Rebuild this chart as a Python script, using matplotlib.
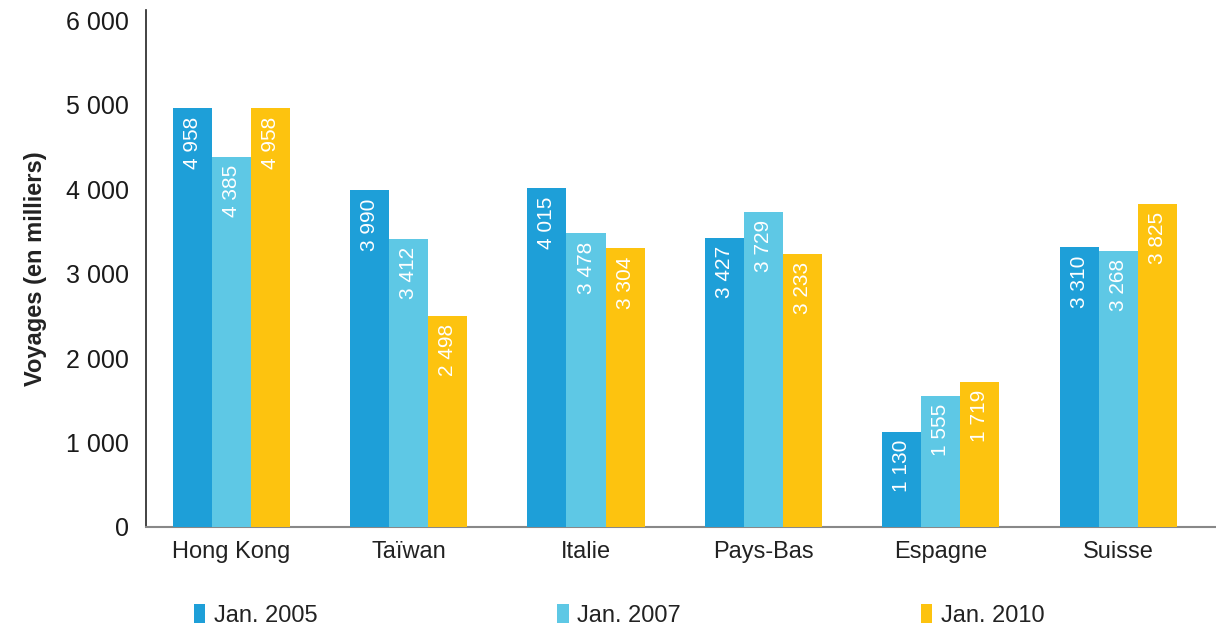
import numpy as np
import matplotlib.pyplot as plt
from matplotlib.patches import Patch

# data
pays = ['Hong Kong', 'Taïwan', 'Italie', 'Pays-Bas', 'Espagne', 'Suisse']
jan2005 = [4958, 3990, 4015, 3427, 1130, 3310]
jan2007 = [4385, 3412, 3478, 3729, 1555, 3268]
jan2010 = [4958, 2498, 3304, 3233, 1719, 3825]
series_labels = ['Jan. 2005', 'Jan. 2007', 'Jan. 2010']
colors = ['#1e9fd8', '#5ec8e5', '#fdc30f']

plt.rcParams['font.family'] = ['Liberation Sans', 'DejaVu Sans']

def fmt(v):
    return f'{int(v):,}'.replace(',', ' ')

fig = plt.figure(figsize=(12.16, 6.27), dpi=100)
ax = fig.add_axes([0.12, 0.1595, 0.88, 0.8245])

x = np.arange(len(pays))
w = 0.22
for i, (vals, col) in enumerate(zip([jan2005, jan2007, jan2010], colors)):
    bars = ax.bar(x + (i - 1) * w, vals, width=w, color=col, zorder=3)
    for b, v in zip(bars, vals):
        ax.annotate(fmt(v), (b.get_x() + b.get_width() / 2, v),
                    xytext=(0, -6), textcoords='offset points',
                    rotation=90, ha='center', va='top',
                    color='white', fontsize=15, zorder=4)

ax.set_xlim(-0.48, 5.55)
ax.set_ylim(0, 6120)
ax.set_yticks(range(0, 6001, 1000))
ax.set_yticklabels([fmt(t) for t in range(0, 6001, 1000)], fontsize=18, color='#1a1a1a')
ax.set_xticks(x)
ax.set_xticklabels(pays, fontsize=17, color='#222222')
ax.tick_params(axis='both', length=0)
ax.tick_params(axis='y', pad=12)
ax.tick_params(axis='x', pad=10)
ax.set_ylabel('Voyages (en milliers)', fontsize=17, fontweight='bold', color='#222222', labelpad=14)

for s in ['top', 'right']:
    ax.spines[s].set_visible(False)
ax.spines['left'].set_color('#222222')
ax.spines['left'].set_linewidth(1.2)
ax.spines['bottom'].set_color('#888888')
ax.spines['bottom'].set_linewidth(1.5)

handles = [Patch(facecolor=c, edgecolor='none') for c in colors]
fig.legend(handles, series_labels, ncol=3, loc='center', bbox_to_anchor=(0.509, 0.019),
           frameon=False, fontsize=17, handlelength=0.5, handleheight=0.9,
           handletextpad=0.35, columnspacing=10.15, labelcolor='#222222')

fig.savefig('out.png', dpi=100)
